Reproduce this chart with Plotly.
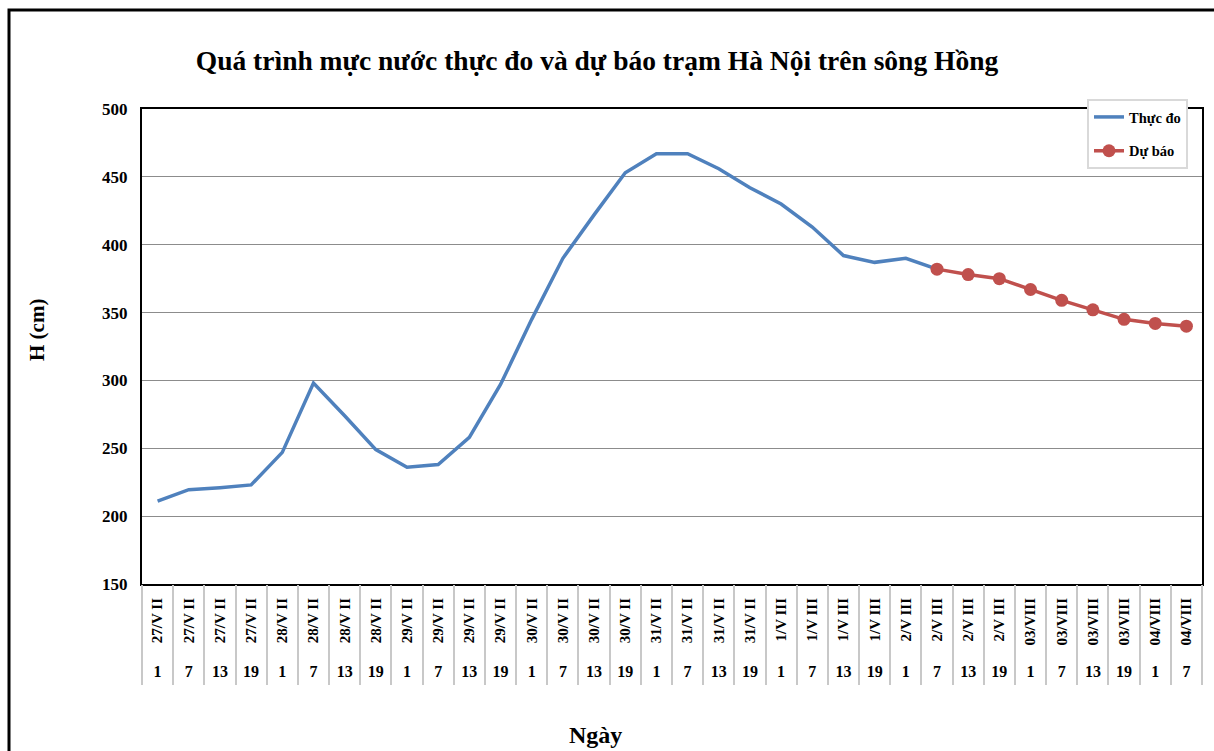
import plotly.graph_objects as go

# ---- data ----
dates = (["27/V II"] * 4 + ["28/V II"] * 4 + ["29/V II"] * 4 + ["30/V II"] * 4 +
         ["31/V II"] * 4 + ["1/V III"] * 4 + ["2/V III"] * 4 + ["03/VIII"] * 4 +
         ["04/VIII"] * 2)
hours = [1, 7, 13, 19] * 8 + [1, 7]
actual = [211, 219.5, 221, 223, 247, 298, 274, 249, 236, 238, 258, 297, 345,
          390, 422, 453, 467, 467, 456, 442, 430, 413, 392, 387, 390, 382]
forecast = [382, 378, 375, 367, 359, 352, 345, 342, 340]

categories = [f"{d} - {h}" for d, h in zip(dates, hours)]
n = len(categories)
start = n - len(forecast)

FONT = "Liberation Serif"
W, H = 1214, 751
L, R, T, B = 142, 12, 109, 167
pw, ph = W - L - R, H - T - B

fig = go.Figure()
fig.add_trace(go.Scatter(
    x=categories[:len(actual)], y=actual, mode="lines", name="Thực đo",
    line=dict(color="#4F81BD", width=3.5), legendgroup="a"))
fig.add_trace(go.Scatter(
    x=categories[start:], y=forecast, mode="lines+markers", name="Dự báo",
    line=dict(color="#C0504D", width=3.5),
    marker=dict(size=13, color="#C0504D"), legendgroup="b"))
# empty traces so the helper axes (category separators, hour row) get drawn
for ax in ("x2", "x3"):
    fig.add_trace(go.Scatter(x=[], y=[], xaxis=ax, yaxis="y", mode="lines",
                             showlegend=False, hoverinfo="skip"))

bold = dict(family=FONT, color="black", weight="bold")

fig.update_layout(
    width=W, height=H,
    margin=dict(l=L, r=R, t=T, b=B, autoexpand=False),
    paper_bgcolor="white", plot_bgcolor="white",
    title=dict(text="Quá trình mực nước thực đo và dự báo trạm Hà Nội trên sông Hồng",
               font=dict(size=27.5, **bold), x=597 / W, xref="container",
               xanchor="center", y=1 - 60 / H, yref="container", yanchor="middle"),
    showlegend=True,
    legend=dict(x=(1087 - L) / pw, y=1 + (T - 99) / ph, xanchor="left", yanchor="top",
                bgcolor="white", bordercolor="#d9d9d9", borderwidth=2,
                font=dict(size=14.5, **bold), tracegroupgap=12),
    xaxis=dict(type="category", categoryorder="array", categoryarray=categories,
               tickmode="array", tickvals=categories, ticktext=dates,
               tickangle=-90, tickfont=dict(size=15, **bold), ticks="",
               ticklabelstandoff=6, range=[-0.5, n - 0.5],
               showgrid=False, showline=True, linecolor="black", linewidth=2,
               mirror=True, zeroline=False),
    xaxis2=dict(overlaying="x", anchor="y", side="bottom", type="linear",
                range=[-0.5, n - 0.5], tickmode="array",
                tickvals=[i - 0.5 for i in range(n + 1)],
                ticks="outside", ticklen=100, tickwidth=1.5, tickcolor="#c8c8c8",
                showticklabels=False, showgrid=False, showline=False, zeroline=False),
    xaxis3=dict(overlaying="x", anchor="y", side="bottom", type="linear",
                range=[-0.5, n - 0.5], tickmode="array",
                tickvals=list(range(n)), ticktext=[str(h) for h in hours],
                ticks="", ticklabelstandoff=76, tickfont=dict(size=16, **bold),
                showgrid=False, showline=False, zeroline=False),
    yaxis=dict(range=[150, 500], dtick=50, tickmode="linear", tick0=150,
               showgrid=True, gridcolor="#8c8c8c", gridwidth=1,
               showline=True, linecolor="black", linewidth=2, mirror=True,
               zeroline=False, ticks="", ticklabelstandoff=9,
               tickfont=dict(size=17, **bold)),
    annotations=[
        dict(text="Ngày", xref="paper", yref="paper", x=(595 - L) / pw,
             y=(T + ph - 735) / ph, xanchor="center", yanchor="middle",
             showarrow=False, font=dict(size=24, **bold)),
        dict(text="H (cm)", xref="paper", yref="paper", x=(37 - L) / pw,
             y=(T + ph - 330) / ph, xanchor="center", yanchor="middle",
             textangle=-90, showarrow=False, font=dict(size=21, **bold)),
    ],
    shapes=[dict(type="rect", xref="paper", yref="paper",
                 x0=(9 - L) / pw, x1=(1225 - L) / pw,
                 y0=(T + ph - 770) / ph, y1=(T + ph - 10) / ph,
                 line=dict(color="black", width=3), fillcolor="rgba(0,0,0,0)",
                 layer="above")],
)

fig.write_html("out.html", config={"displayModeBar": False},
               post_script="document.body.style.margin='0';")
